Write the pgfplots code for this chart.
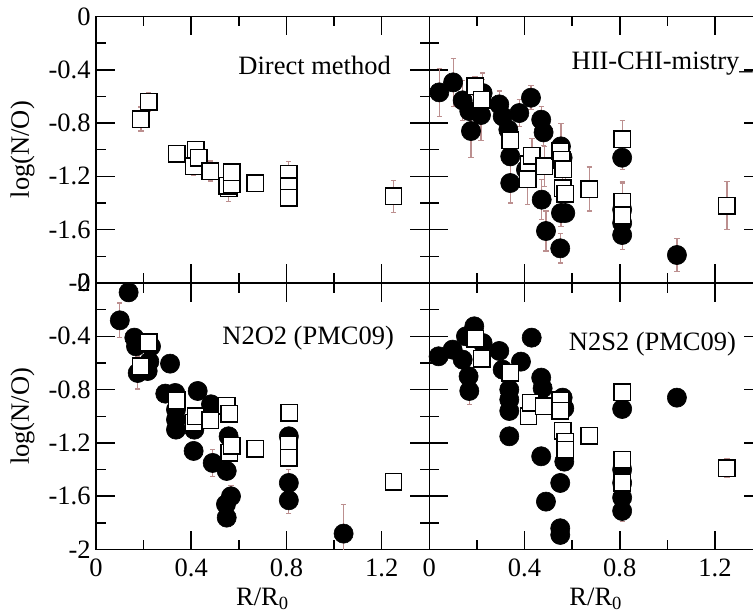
\documentclass[border=0pt]{standalone}
\usepackage{fontspec}
\setmainfont{Liberation Serif}
\usepackage{pgfplots}
\pgfplotsset{compat=1.18}
\definecolor{errc}{RGB}{188,143,143}
\pgfplotsset{
  panel/.style={
    scale only axis, width=166.65pt, height=133.3pt,
    xmin=0, xmax=1.4, ymin=-2, ymax=0,
    xtick={0,0.4,0.8,1.2}, xticklabels={0,0.4,0.8,1.2},
    ytick={-2,-1.6,-1.2,-0.8,-0.4,0}, yticklabels={-2,-1.6,-1.2,-0.8,-0.4,0},
    minor xtick={0.2,0.6,1.0}, minor ytick={-1.8,-1.4,-1,-0.6,-0.2},
    tick align=inside, major tick length=9.5pt, minor tick length=4.75pt,
    axis line style={line width=0.8pt}, tick style={black, line width=0.8pt},
    xticklabel style={inner ysep=4.5pt, inner xsep=0pt},
    yticklabel style={inner xsep=2.5pt, inner ysep=0pt},
  },
  leftpanel/.style={ylabel={log(N/O)},
    ylabel style={at={(axis description cs:-0.2205,0.5)}, anchor=center, inner sep=0pt}},
  botpanel/.style={xlabel={R/R\textsubscript{0}},
    xlabel style={at={(axis description cs:0.5,0)}, anchor=base, yshift=-28pt, inner sep=0pt}},
  errs/.style={error bars/.cd, y dir=both, y explicit,
    error bar style={errc, line width=0.6pt},
    error mark options={errc, line width=0.6pt, mark size=1.3pt, rotate=90}},
  circ/.style={only marks, mark=*, mark size=4.8pt,
    mark options={fill=black, draw=black, line width=0.3pt}, errs},
  sq/.style={only marks, mark=square*, mark size=4.1pt,
    mark options={fill=white, draw=black, line width=0.7pt}, errs},
}
\begin{document}
\fontsize{13.25pt}{16pt}\selectfont
\begin{tikzpicture}
% top left: direct method
\begin{axis}[panel, leftpanel, at={(48pt,-141.5pt)}, anchor=south west, xticklabels=\empty]
\addplot[sq] table[x=x, y=y, y error=e] {
x y e
0.189 -0.77 0.09
0.221 -0.64 0.07
0.340 -1.03 0
0.410 -1.125 0.07
0.420 -1.00 0
0.431 -1.06 0
0.480 -1.16 0.075
0.557 -1.29 0.1
0.551 -1.27 0
0.570 -1.26 0
0.570 -1.17 0
0.669 -1.25 0
0.810 -1.18 0.09
0.810 -1.275 0
0.810 -1.36 0
1.250 -1.35 0.12
};
\node[anchor=base east, inner sep=0pt] at (axis cs:1.24,-0.435) {Direct method};
\end{axis}
% top right: HII-CHI-mistry
\begin{axis}[panel, at={(214.65pt,-141.5pt)}, anchor=south west, xticklabels=\empty, yticklabels=\empty]
\addplot[circ] table[x=x, y=y, y error=e] {
x y e
0.042 -0.57 0.18
0.100 -0.495 0.18
0.140 -0.63 0.15
0.168 -0.71 0.15
0.224 -0.575 0.15
0.217 -0.74 0.19
0.175 -0.86 0.2
0.294 -0.66 0.1
0.308 -0.75 0.1
0.332 -0.85 0
0.378 -0.725 0.1
0.427 -0.61 0.09
0.470 -0.775 0.1
0.480 -0.87 0.1
0.340 -1.05 0
0.340 -1.25 0.15
0.406 -1.15 0.12
0.472 -1.375 0.15
0.490 -1.61 0.15
0.550 -1.74 0.11
0.553 -0.975 0.17
0.560 -1.06 0
0.553 -1.475 0.1
0.571 -1.475 0.05
0.810 -1.06 0.09
0.810 -1.45 0.2
0.810 -1.55 0
0.810 -1.64 0.11
1.040 -1.79 0.125
};
\addplot[sq] table[x=x, y=y, y error=e] {
x y e
0.192 -0.525 0.07
0.221 -0.625 0.15
0.340 -0.93 0.19
0.417 -1.11 0
0.413 -1.22 0.19
0.431 -1.045 0.13
0.483 -1.125 0.15
0.550 -1.01 0
0.557 -1.075 0
0.563 -1.145 0
0.560 -1.29 0.15
0.571 -1.33 0.15
0.672 -1.295 0.165
0.810 -0.92 0.14
0.810 -1.39 0.15
0.810 -1.49 0
1.250 -1.42 0.18
};
\node[anchor=base east, inner sep=0pt] at (axis cs:1.36,-0.40) {HII-CHI-mistry\_};
\end{axis}
% bottom left: N2O2
\begin{axis}[panel, leftpanel, botpanel, at={(48pt,-274.8pt)}, anchor=south west]
\addplot[circ] table[x=x, y=y, y error=e] {
x y e
0.137 -0.07 0
0.100 -0.28 0.13
0.161 -0.41 0
0.168 -0.475 0
0.231 -0.475 0
0.224 -0.59 0
0.217 -0.66 0
0.175 -0.675 0.12
0.311 -0.605 0
0.291 -0.83 0
0.333 -0.825 0
0.336 -0.95 0
0.336 -1.025 0
0.336 -1.1 0
0.427 -0.81 0
0.483 -0.91 0
0.413 -1.1 0
0.410 -1.26 0
0.490 -1.35 0.1
0.549 -1.41 0
0.557 -1.15 0
0.567 -1.6 0.08
0.546 -1.66 0
0.549 -1.76 0
0.810 -1.15 0
0.810 -1.5 0.1
0.810 -1.63 0.1
1.040 -1.88 0.22
};
\addplot[sq] table[x=x, y=y, y error=e] {
x y e
0.221 -0.445 0
0.189 -0.625 0
0.340 -0.88 0
0.410 -1.05 0
0.420 -1.00 0
0.480 -1.03 0
0.550 -0.92 0
0.560 -0.98 0
0.560 -1.275 0
0.571 -1.22 0
0.669 -1.245 0
0.812 -0.975 0
0.810 -1.21 0
0.810 -1.31 0
1.250 -1.49 0
};
\node[anchor=base east, inner sep=0pt] at (axis cs:1.253,-0.46) {N2O2 (PMC09)};
\end{axis}
% bottom right: N2S2
\begin{axis}[panel, botpanel, at={(214.65pt,-274.8pt)}, anchor=south west, yticklabels=\empty]
\addplot[circ] table[x=x, y=y, y error=e] {
x y e
0.039 -0.55 0
0.098 -0.50 0
0.140 -0.575 0
0.189 -0.325 0
0.154 -0.40 0
0.224 -0.45 0
0.165 -0.70 0
0.168 -0.81 0.1
0.294 -0.51 0
0.308 -0.65 0
0.385 -0.59 0
0.336 -0.80 0
0.336 -0.875 0
0.336 -0.96 0
0.336 -1.15 0
0.430 -0.41 0
0.470 -0.71 0
0.476 -0.79 0
0.470 -1.30 0
0.490 -1.64 0
0.550 -1.50 0
0.550 -1.84 0
0.550 -1.89 0
0.560 -0.86 0
0.567 -0.94 0
0.567 -1.34 0
0.810 -0.945 0
0.810 -1.40 0
0.810 -1.50 0
0.810 -1.61 0
0.810 -1.71 0.08
1.040 -0.86 0
};
\addplot[sq] table[x=x, y=y, y error=e] {
x y e
0.192 -0.42 0
0.220 -0.57 0
0.340 -0.675 0
0.417 -1.00 0
0.427 -0.90 0
0.480 -0.925 0
0.550 -0.88 0
0.550 -0.96 0
0.560 -1.11 0
0.570 -1.19 0
0.570 -1.25 0
0.672 -1.145 0
0.810 -0.82 0
0.810 -1.325 0
0.810 -1.50 0
1.250 -1.39 0.07
};
\node[anchor=base east, inner sep=0pt] at (axis cs:1.29,-0.51) {N2S2 (PMC09)};
\end{axis}
\pgfresetboundingbox
\path[use as bounding box] (0pt,0pt) rectangle (376.5pt,-306.5pt);
\end{tikzpicture}
\end{document}
